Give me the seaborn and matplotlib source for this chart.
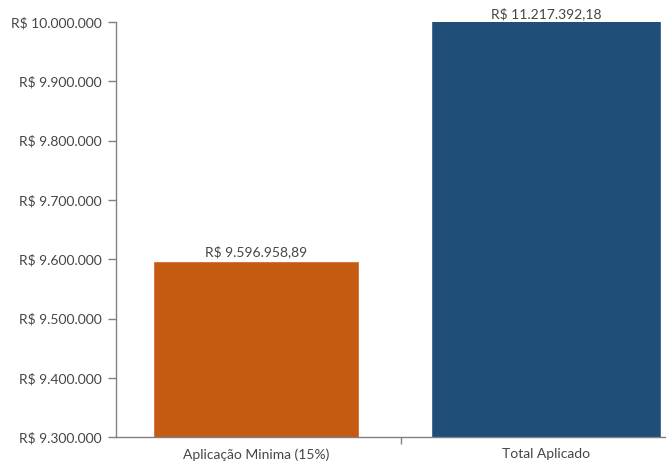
import matplotlib
matplotlib.use("Agg")
import matplotlib.pyplot as plt
import matplotlib.ticker as mticker
import numpy as np
import pandas as pd
import seaborn as sns

# valores do grafico
categorias = ["Aplicação Minima (15%)", "Total Aplicado"]
valores = [9596958.89, 11217392.18]
cores = ["#C55A11", "#1F4E79"]
y_min, y_max = 9300000, 10000000
y_ticks = [9300000, 9400000, 9500000, 9600000, 9700000, 9800000, 9900000, 10000000]


def brl(v, dec=0):
    s = f"{v:,.{dec}f}"
    s = s.replace(",", "X").replace(".", ",").replace("X", ".")
    return "R$ " + s


df = pd.DataFrame({"cat": categorias, "valor": valores})

sns.set_theme(style="white")
sns.set_style("ticks")
plt.rcParams['font.family'] = ['Lato', 'DejaVu Sans']

fig = plt.figure(figsize=(6.66, 4.69), dpi=100)
ax = fig.add_axes([0.174, 0.068, 0.841, 0.885])

sns.barplot(data=df, x="cat", y="valor", hue="cat", palette=cores,
            width=0.75, legend=False, ax=ax, saturation=1)

# larguras um pouco diferentes como no original
larguras = [0.71, 0.79]
for p, w in zip(ax.patches, larguras):
    c = p.get_x() + p.get_width() / 2
    p.set_width(w)
    p.set_x(c - w / 2)

ax.set_ylim(y_min, y_max)
ax.set_xlim(-0.483, 1.448)
ax.set_yticks(y_ticks)
ax.yaxis.set_major_formatter(mticker.FuncFormatter(lambda v, p: brl(v)))
ax.set_xlabel("")
ax.set_ylabel("")

txt = "#454545"
ax.tick_params(axis="y", labelsize=10, colors="#808080", labelcolor=txt, length=6, width=1, pad=4)
ax.tick_params(axis="x", which="major", labelsize=10, labelcolor=txt, length=0, pad=8)
ax.set_xticks([0.5], minor=True)
ax.tick_params(axis="x", which="minor", length=5, color="#808080", width=1)

for s in ["top", "right"]:
    ax.spines[s].set_visible(False)
for s in ["left", "bottom"]:
    ax.spines[s].set_color("#808080")
    ax.spines[s].set_linewidth(1)

# rotulos dos valores
for i, v in enumerate(valores):
    y = min(v, y_max)
    ax.text(i, y + 4000, brl(v, 2), ha="center", va="bottom",
            fontsize=10, color=txt, clip_on=False)

fig.savefig("out.png", dpi=100)
